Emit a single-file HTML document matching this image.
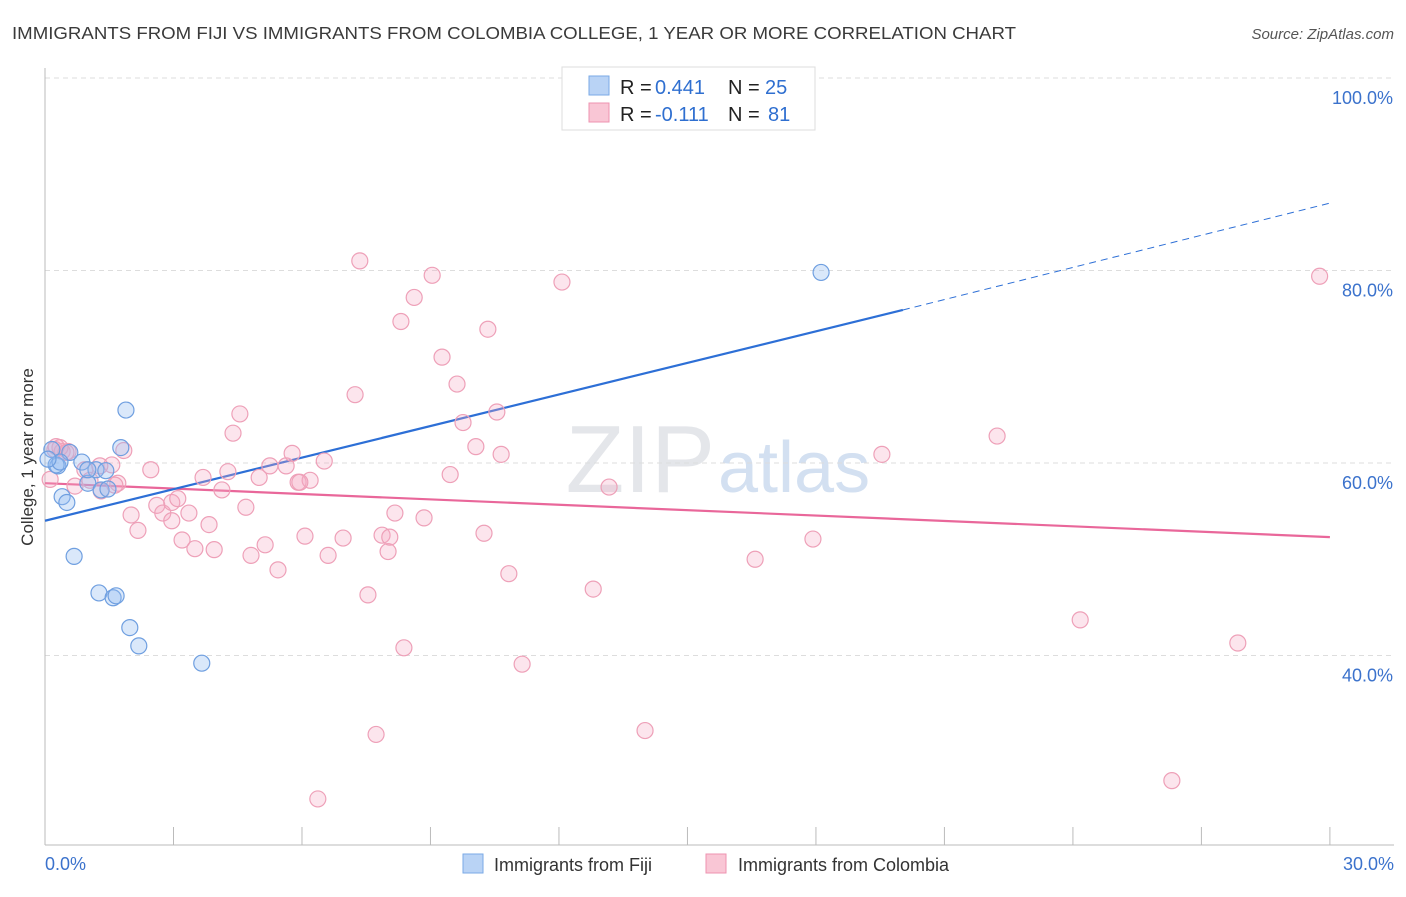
<!DOCTYPE html>
<html><head><meta charset="utf-8"><style>
body{margin:0;background:#fff;font-family:"Liberation Sans",sans-serif;}
svg text{font-family:"Liberation Sans",sans-serif;}
</style></head><body>
<svg id="chart" width="1406" height="892" xmlns="http://www.w3.org/2000/svg">
<text x="12" y="39" font-size="17.5" fill="#3a3a3a" textLength="1004" lengthAdjust="spacingAndGlyphs">IMMIGRANTS FROM FIJI VS IMMIGRANTS FROM COLOMBIA COLLEGE, 1 YEAR OR MORE CORRELATION CHART</text>
<text x="1394" y="39" font-size="15" fill="#555" text-anchor="end" font-style="italic">Source: ZipAtlas.com</text>
<text x="715" y="492" font-size="96" fill="#e4e6ea" text-anchor="end" font-family="Liberation Serif">ZIP</text>
<text x="718" y="492" font-size="72" fill="#d3e0f1">atlas</text>
<g id="grid"></g>
<g id="axes"></g>
<g id="lines"></g>
<g id="pts"></g>
<text transform="translate(33,457) rotate(-90)" font-size="17" fill="#333" text-anchor="middle">College, 1 year or more</text>
<g>
<rect x="562" y="67" width="253" height="63" fill="#fff" stroke="#ddd"/>
<rect x="589" y="76" width="20" height="19" fill="#b9d3f5" stroke="#7aa9e6"/>
<rect x="589" y="103" width="20" height="19" fill="#f9c6d5" stroke="#ee93b0"/>
<text y="94" font-size="20" fill="#222"><tspan x="620">R =</tspan><tspan x="655" fill="#2f6fd0">0.441</tspan><tspan x="728">N =</tspan><tspan x="765" fill="#2f6fd0">25</tspan></text>
<text y="121" font-size="20" fill="#222"><tspan x="620">R =</tspan><tspan x="655" fill="#2f6fd0">-0.111</tspan><tspan x="728">N =</tspan><tspan x="768" fill="#2f6fd0">81</tspan></text>
</g>
<g>
<rect x="463" y="854" width="20" height="19" fill="#b9d3f5" stroke="#7aa9e6"/>
<text x="494" y="871" font-size="18" fill="#333">Immigrants from Fiji</text>
<rect x="706" y="854" width="20" height="19" fill="#f9c6d5" stroke="#ee93b0"/>
<text x="738" y="871" font-size="18" fill="#333">Immigrants from Colombia</text>
</g>
</svg>
<script>
const fijiX=[0.16,0.3,0.58,0.86,0.4,0.51,1.0,1.19,1.42,1.31,1.47,1.89,1.77,0.68,1.26,1.59,1.66,1.98,2.19,3.66,18.12,0.26,0.35,1.0,0.07];
const fijiY=[61.4,59.7,61.1,60.1,56.5,55.9,57.9,59.3,59.2,57.2,57.3,65.5,61.6,50.3,46.5,46.0,46.2,42.9,41.0,39.2,79.8,59.8,60.1,59.3,60.4];
const colX=[0.12,0.23,0.4,0.54,0.7,0.93,1.05,1.31,1.56,1.7,1.84,2.01,2.17,2.47,2.61,2.75,2.96,3.1,3.2,3.36,3.5,3.69,3.83,3.95,4.13,4.27,4.39,4.55,4.69,4.81,5.0,5.14,5.25,5.44,5.63,5.77,5.91,6.07,6.19,6.52,6.61,6.37,6.96,7.24,7.35,7.54,7.73,7.87,8.01,8.17,8.31,8.38,8.62,8.85,9.04,9.27,9.46,9.62,9.76,10.06,10.34,10.25,10.55,10.65,10.83,11.14,12.07,12.8,13.17,14.01,16.58,17.93,19.54,22.23,24.17,26.31,27.85,29.76,0.35,0.49,0.26,1.28,1.63,2.96,8.05,5.95];
const colY=[58.3,61.4,61.2,61.2,57.6,59.3,58.2,57.1,59.8,57.9,61.3,54.6,53.0,59.3,55.6,54.8,55.9,56.3,52.0,54.8,51.1,58.5,53.6,51.0,57.2,59.1,63.1,65.1,55.4,50.4,58.5,51.5,59.7,48.9,59.7,61.0,58.0,52.4,58.2,60.2,50.4,25.1,52.2,67.1,81.0,46.3,31.8,52.5,50.8,54.8,74.7,40.8,77.2,54.3,79.5,71.0,58.8,68.2,64.2,61.7,73.9,52.7,65.3,60.9,48.5,39.1,78.8,46.9,57.5,32.2,50.0,52.1,60.9,62.8,43.7,27.0,41.3,79.4,61.6,61.1,61.7,59.7,57.7,54.0,52.3,58.0];
const fijiLine=[[0,54.0],[20.03,75.9]],fijiDash=[[20.03,75.9],[30,87.0]];
const colLine=[[0,57.9],[30,52.3]];
const xTicks=[0,3,6,9,12,15,18,21,24,27,30];
const yGrid=[100,80,60,40];
const ns="http://www.w3.org/2000/svg";
const X=v=>45+v*42.83, Y=v=>78+(100-v)*9.625;
function mk(tag,attrs,parent){const e=document.createElementNS(ns,tag);for(const k in attrs)e.setAttribute(k,attrs[k]);document.getElementById(parent).appendChild(e);return e;}
yGrid.forEach(v=>{
 const l=mk('line',{x1:45,x2:1394,y1:Y(v),y2:Y(v),stroke:'#ddd','stroke-dasharray':'5,4'},'grid');
 
 
 const t=mk('text',{x:1393,y:Y(v)+26,'font-size':18,fill:'#3b72cc','text-anchor':'end'},'axes');t.textContent=v.toFixed(1)+'%';
 
 
});
const ax=mk('line',{x1:45,x2:1394,y1:845,y2:845,stroke:'#bbb'},'axes');


const ay=mk('line',{x1:45,x2:45,y1:68,y2:845,stroke:'#bbb'},'axes');


xTicks.forEach(v=>{
 const l=mk('line',{x1:X(v),x2:X(v),y1:827,y2:845,stroke:'#bbb'},'axes');
 
 
});
[[0,'0.0%','start',45],[30,'30.0%','end',1394]].forEach(a=>{
 const t=mk('text',{x:a[3],y:870,'font-size':18,fill:'#3b72cc','text-anchor':a[2]},'axes');t.textContent=a[1];
 
 
});
function line(p,c,w,dash,name){const l=mk('line',{x1:X(p[0][0]),y1:Y(p[0][1]),x2:X(p[1][0]),y2:Y(p[1][1]),stroke:c,'stroke-width':w},'lines');if(dash)l.setAttribute('stroke-dasharray',dash);
 
 }
colX.forEach((x,i)=>{const c=mk('circle',{cx:X(x),cy:Y(colY[i]),r:8,fill:'rgba(246,170,195,0.3)',stroke:'#eea0b8','stroke-width':1.2},'pts');
 
 });
fijiX.forEach((x,i)=>{const c=mk('circle',{cx:X(x),cy:Y(fijiY[i]),r:8,fill:'rgba(150,190,240,0.35)',stroke:'#6f9fe0','stroke-width':1.2},'pts');
 
 });
line(colLine,'#e9679a',2.2,null,'colombia-trendline');
line(fijiLine,'#2d6fd6',2.2,null,'fiji-trendline');
line(fijiDash,'#2d6fd6',1,'7,5','fiji-trendline-extension');
</script>
</body></html>
